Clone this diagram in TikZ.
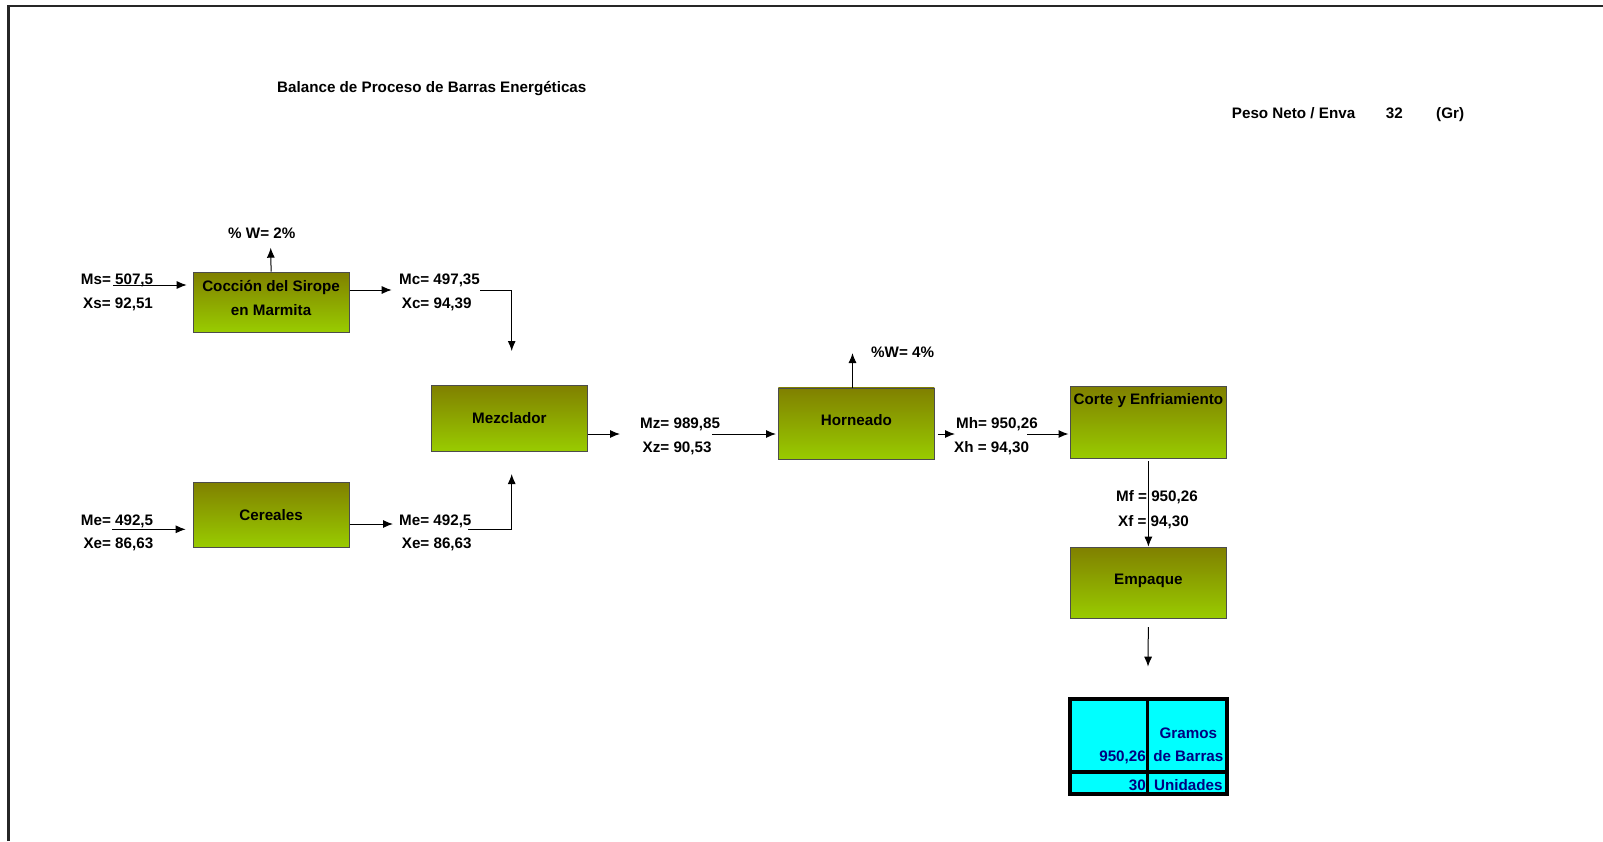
\documentclass[tikz,border=0pt]{standalone}
\usepackage{fontspec}
\setmainfont{Liberation Sans}
\usepackage{tikz}
\usepackage{xcolor}
\usetikzlibrary{positioning, arrows.meta}

\definecolor{olivetop}{RGB}{128,128,0}
\definecolor{limebot}{RGB}{153,204,0}
\definecolor{cellcyan}{RGB}{0,255,255}
\definecolor{cellnavy}{RGB}{0,0,128}

\begin{document}
\begin{tikzpicture}[x=1pt, y=-1pt,
        every node/.style={font=\fontsize{15.2pt}{23.5pt}\selectfont\bfseries},
        box/.style={draw=black!70, line width=0.8pt, top color=olivetop, bottom color=limebot, minimum width=156pt, inner sep=0pt, anchor=north west, text depth=0pt},
        lbl/.style={inner sep=0pt, anchor=base west},
        flow/.style={-{Latex[length=10pt, width=8pt]}, line width=1pt}]
    \useasboundingbox (0,0) rectangle (1603,841);
    \draw[line width=2.5pt, black!85] (8.5,841) -- (8.5,6) -- (1603,6);

    \node[lbl] (title) at (277,92.3) {Balance de Proceso de Barras Energéticas};
    \node[lbl] (peso) at (1231.7,118) {Peso Neto / Enva};
    \node[lbl] (neto) at (1385.7,118) {32};
    \node[lbl] (gr) at (1436,118) {(Gr)};

    \node[box, minimum height=60pt, align=center, text depth=8pt] (sirope) at (192.7,271.7) {Cocción del Sirope\\en Marmita};
    \node[box, minimum height=65pt] (cereales) at (192.7,481.7) {Cereales};
    \node[box, minimum height=66pt] (mezclador) at (431,385) {Mezclador};
    \node[box, minimum height=71.7pt, text depth=8.5pt] (horneado) at (778,387.5) {Horneado};
    \node[box, minimum height=72.3pt, label={[anchor=north, inner sep=0pt, yshift=-7pt]north:Corte y Enfriamiento}] (corte) at (1070,386) {};
    \node[box, minimum height=71.6pt, text depth=8pt] (empaque) at (1070,546.7) {Empaque};

    \node[lbl] (ms) at (80.7,284.5) {Ms= 507,5};
    \node[lbl] (xs) at (83,308.5) {Xs= 92,51};
    \node[lbl] (pw1) at (228,238) {\% W= 2\%};
    \node[lbl] (mc) at (399,284.5) {Mc= 497,35};
    \node[lbl] (xc) at (401.7,308.5) {Xc= 94,39};
    \node[lbl] (mel) at (80.7,525) {Me= 492,5};
    \node[lbl] (xel) at (83.3,548) {Xe= 86,63};
    \node[lbl] (mer) at (399,525) {Me= 492,5};
    \node[lbl] (xer) at (401.7,548) {Xe= 86,63};
    \node[lbl] (mz) at (640,428) {Mz= 989,85};
    \node[lbl] (xz) at (642.5,452.5) {Xz= 90,53};
    \node[lbl] (pw2) at (871,357) {\%W= 4\%};
    \node[lbl] (mh) at (956,428.5) {Mh= 950,26};
    \node[lbl] (xh) at (954,452.7) {Xh = 94,30};
    \node[lbl] (mf) at (1116,501.7) {Mf = 950,26};
    \node[lbl] (xf) at (1118,526) {Xf = 94,30};

    \coordinate (msin) at (113,285);
    \coordinate (w1) at (270.7,247.7);
    \coordinate (mcin) at (391.7,290);
    \coordinate (mcout) at (480,290);
    \coordinate (mezin) at (511.7,351);
    \coordinate (cein) at (112,529.3);
    \coordinate (ceout) at (393,524);
    \coordinate (meout) at (468,529.3);
    \coordinate (mezin2) at (511.7,474);
    \coordinate (mzin) at (620,434);
    \coordinate (mzout) at (712,434);
    \coordinate (w2) at (852.5,353);
    \coordinate (mhin) at (955,434);
    \coordinate (mhout) at (1027,434);
    \coordinate (emout) at (1148,666.7);

    \draw[flow, shorten >=6pt] (msin) -- (msin -| sirope.west);
    \draw[flow] (sirope.north) -- (w1);
    \draw[flow] (sirope.east |- mcin) -- (mcin);
    \draw[flow] (mcout) -| (mezin);
    \draw[flow, shorten >=7pt] (cein) -- (cein -| cereales.west);
    \draw[flow] (cereales.east |- ceout) -- (ceout);
    \draw[flow] (meout) -| (mezin2);
    \draw[flow] (mezclador.east |- mzin) -- (mzin);
    \draw[flow, shorten >=2pt] (mzout) -- (mzout -| horneado.west);
    \draw[flow] (horneado.north -| w2) -- (w2);
    \draw[flow, shorten <=3pt] (horneado.east |- mhin) -- (mhin);
    \draw[flow, shorten >=1.5pt] (mhout) -- (mhout -| corte.west);
    \draw[flow, shorten <=2pt] (corte.south) -- (empaque.north);
    \draw[flow, shorten <=8pt] (empaque.south) -- (emout);

    \filldraw[fill=cellcyan, line width=4pt] (1070.3,699.3) rectangle (1227.3,793.7);
    \draw[line width=3pt] (1147.3,699.3) -- (1147.3,793.7);
    \draw[line width=4pt] (1070.3,771.7) -- (1227.3,771.7);
    \node[inner sep=0pt, anchor=base, text=cellnavy] (gramos) at (1188.3,738.3) {Gramos};
    \node[inner sep=0pt, anchor=base, text=cellnavy] (barras) at (1188.3,761.7) {de Barras};
    \node[inner sep=0pt, anchor=base east, text=cellnavy] (peso2) at (1146,761.7) {950,26};
    \node[inner sep=0pt, anchor=base east, text=cellnavy] (cant) at (1146,790) {30};
    \node[inner sep=0pt, anchor=base, text=cellnavy] (unid) at (1188.3,790) {Unidades};
\end{tikzpicture}
\end{document}
